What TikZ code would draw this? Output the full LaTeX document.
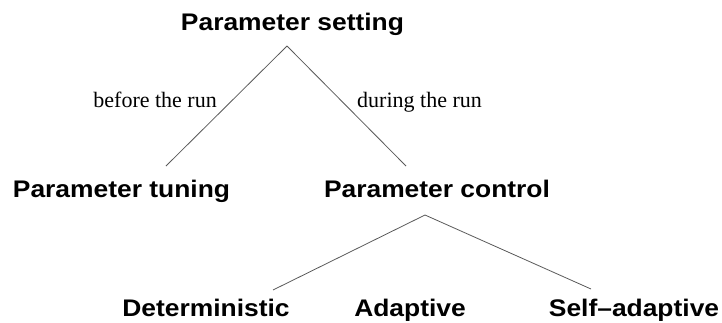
\documentclass[tikz,border=0pt]{standalone}
\usepackage{fontspec}
\setmainfont{Liberation Serif}
\newfontfamily\headfont{Liberation Sans}[FakeStretch=1.1]
\begin{document}
\begin{tikzpicture}[x=1pt,y=-1pt,
  head/.style={font=\headfont\bfseries\fontsize{24}{24}\selectfont, inner sep=0pt, anchor=base},
  lbl/.style={font=\fontsize{22}{22}\selectfont, inner sep=0pt},
  branch/.style={draw=black!65, line width=0.8pt}]
\useasboundingbox (0,0) rectangle (722,322);
% nodes
\node[head] (setting) at (292.5,30) {Parameter setting};
\node[head] (tuning) at (121.5,197) {Parameter tuning};
\node[head] (control) at (437,197) {Parameter control};
\node[head] (determ) at (206,316) {Deterministic};
\node[head] (adapt) at (410,316) {Adaptive};
\node[head] (selfad) at (634,316) {Self–adaptive};
% connector end points
\coordinate (apexA) at (287,46);
\coordinate (endTun) at (166,166);
\coordinate (endCon) at (406,166);
\coordinate (apexB) at (425,215);
\coordinate (endDet) at (273,290);
\coordinate (endSelf) at (591,289);
% connectors
\draw[branch] (apexA) -- (endTun);
\draw[branch] (apexA) -- (endCon);
\draw[branch] (apexB) -- (endDet);
\draw[branch] (apexB) -- (endSelf);
% edge labels
\node[lbl, anchor=base east] (before) at (217,107) {before the run};
\node[lbl, anchor=base west] (during) at (357,107) {during the run};
\end{tikzpicture}
\end{document}
